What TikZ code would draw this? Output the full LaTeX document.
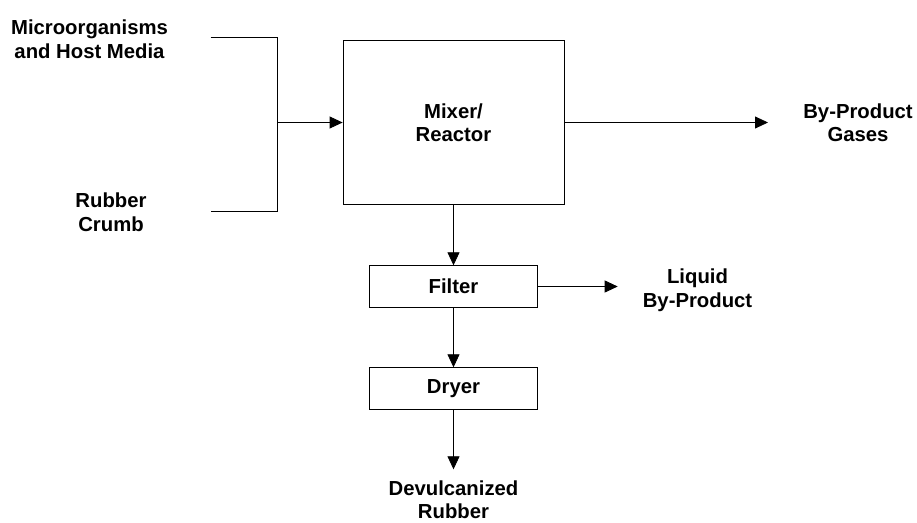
\documentclass[tikz,border=0pt]{standalone}
\usepackage{fontspec}
\setmainfont{Liberation Sans}
\usetikzlibrary{arrows.meta}

\begin{document}
\begin{tikzpicture}[
			x=1pt,
			y=-1pt,
			>={Triangle[length=13pt, width=12pt]},
			line width=0.8pt,
			font=\bfseries\fontsize{20.3}{23.5}\selectfont,
			box/.style={draw, align=center, inner sep=0pt},
			bigbox/.style={box, minimum width=221pt, minimum height=164pt},
			smallbox/.style={box, minimum width=168.5pt, minimum height=41.6pt},
			txt/.style={align=center, inner sep=0pt}
		]
			\useasboundingbox (0,0) rectangle (917,522);

			\node[txt] (microbes) at (89.5,39)  {Microorganisms\\and Host Media};
			\node[txt] (crumb)    at (111,212)  {Rubber\\Crumb};

			\node[bigbox]   (mixer)  at (453.5,122.5) {Mixer/\\Reactor};
			\node[smallbox] (filter) at (453.5,286.5) {Filter};
			\node[smallbox] (dryer)  at (453.5,388.5) {Dryer};

			\node[txt] (gases)  at (858,122.5) {By-Product\\Gases};
			\node[txt] (liquid) at (697.5,290) {Liquid\\By-Product};
			\node[txt] (devul)  at (453.5,499.5) {Devulcanized\\Rubber};

			\coordinate (topin)  at (210.7,37.3);
			\coordinate (botin)  at (210.7,211);
			\coordinate (join)   at (277.3,122.5);
			\coordinate (gasend) at (768,122.5);
			\coordinate (liqend) at (617.7,286.5);
			\coordinate (rubend) at (453.5,469.3);

			\draw (topin) -| (join) |- (botin);
			\draw[->] (join) -- (mixer.west);

			\draw[->] (mixer.east) -- (gasend);
			\draw[->] (mixer.south) -- (filter.north);
			\draw[->] (filter.east) -- (liqend);
			\draw[->] (filter.south) -- (dryer.north);
			\draw[->] (dryer.south) -- (rubend);
		\end{tikzpicture}
\end{document}
